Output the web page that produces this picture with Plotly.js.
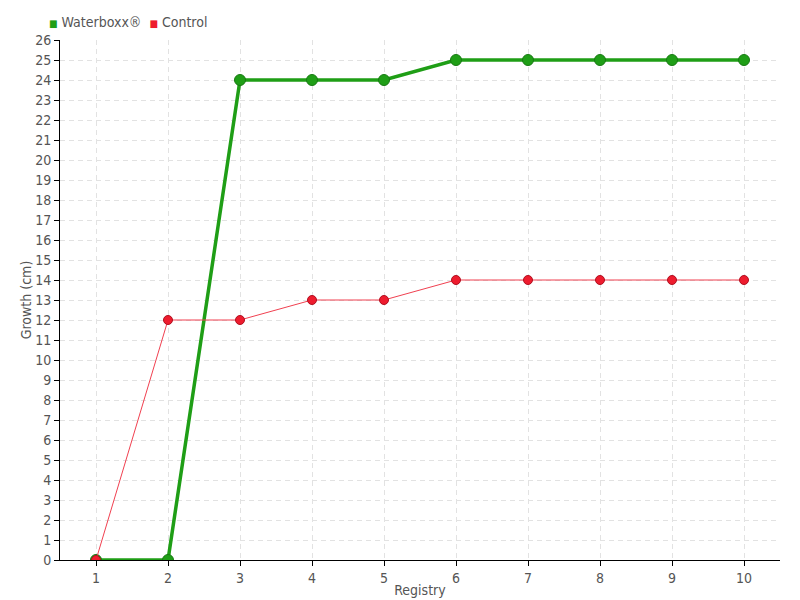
<!DOCTYPE html>
<html><head><meta charset="utf-8">
<script src="https://cdn.plot.ly/plotly-3.0.1.min.js"></script>
<style>body{margin:0}</style></head>
<body><div id="chart" style="width:800px;height:600px"></div>
<script>
const registry = [1,2,3,4,5,6,7,8,9,10];
const waterboxx = [0,0,24,24,24,25,25,25,25,25];
const control = [0,12,12,13,13,14,14,14,14,14];
const seriesNames = ['Waterboxx®','Control'];
const yTicks = Array.from({length:27},(_,i)=>i);

const fontFam = '"DejaVu Sans Condensed", Roboto, sans-serif';
const green = '#1f9e16', red = '#ee1c2e';

const traces = [
  {x: registry, y: waterboxx, mode:'lines+markers', name: seriesNames[0], showlegend:false,
   line:{color:green, width:3.5}, marker:{color:green, size:11, line:{color:'#177a12', width:1}}},
  {x: registry, y: control, mode:'lines+markers', name: seriesNames[1], showlegend:false,
   line:{color:'#f04050', width:1}, marker:{color:red, size:9, line:{color:'#b01020', width:1}}}
];

const sq = c => '<span style="color:'+c+';font-size:10px">■</span>';
const layout = {
  width:800, height:600,
  margin:{l:60, r:20, t:40, b:40},
  paper_bgcolor:'#fff', plot_bgcolor:'#fff',
  font:{family:fontFam, color:'#555', size:14},
  showlegend:false,
  annotations:[
    {xref:'paper', yref:'paper', x:-0.018, y:1.035, xanchor:'left', yanchor:'middle', showarrow:false,
     text: sq(green)+' '+seriesNames[0]+'  '+sq(red)+' '+seriesNames[1],
     font:{size:14, color:'#555'}}
  ],
  xaxis:{range:[0.5,10.5], tickvals:registry, ticktext:registry.map(String), showline:true, linecolor:'#000', linewidth:1,
         ticks:'outside', ticklen:5, tickcolor:'#000', showgrid:true, gridcolor:'#e2e2e2', griddash:'5px,4px', zeroline:false,
         title:{text:'Registry', font:{size:14, color:'#555'}, standoff:0}, tickfont:{size:14, color:'#555'}},
  yaxis:{range:[0,26], tickvals:yTicks, showline:true, linecolor:'#000', linewidth:1, ticks:'outside', ticklen:5, tickcolor:'#000',
         showgrid:true, gridcolor:'#e2e2e2', griddash:'5px,4px', zeroline:false,
         title:{text:'Growth (cm)', font:{size:14, color:'#555'}, standoff:0}, tickfont:{size:14, color:'#555'}}
};
Plotly.newPlot('chart', traces, layout, {displayModeBar:false});
</script></body></html>
